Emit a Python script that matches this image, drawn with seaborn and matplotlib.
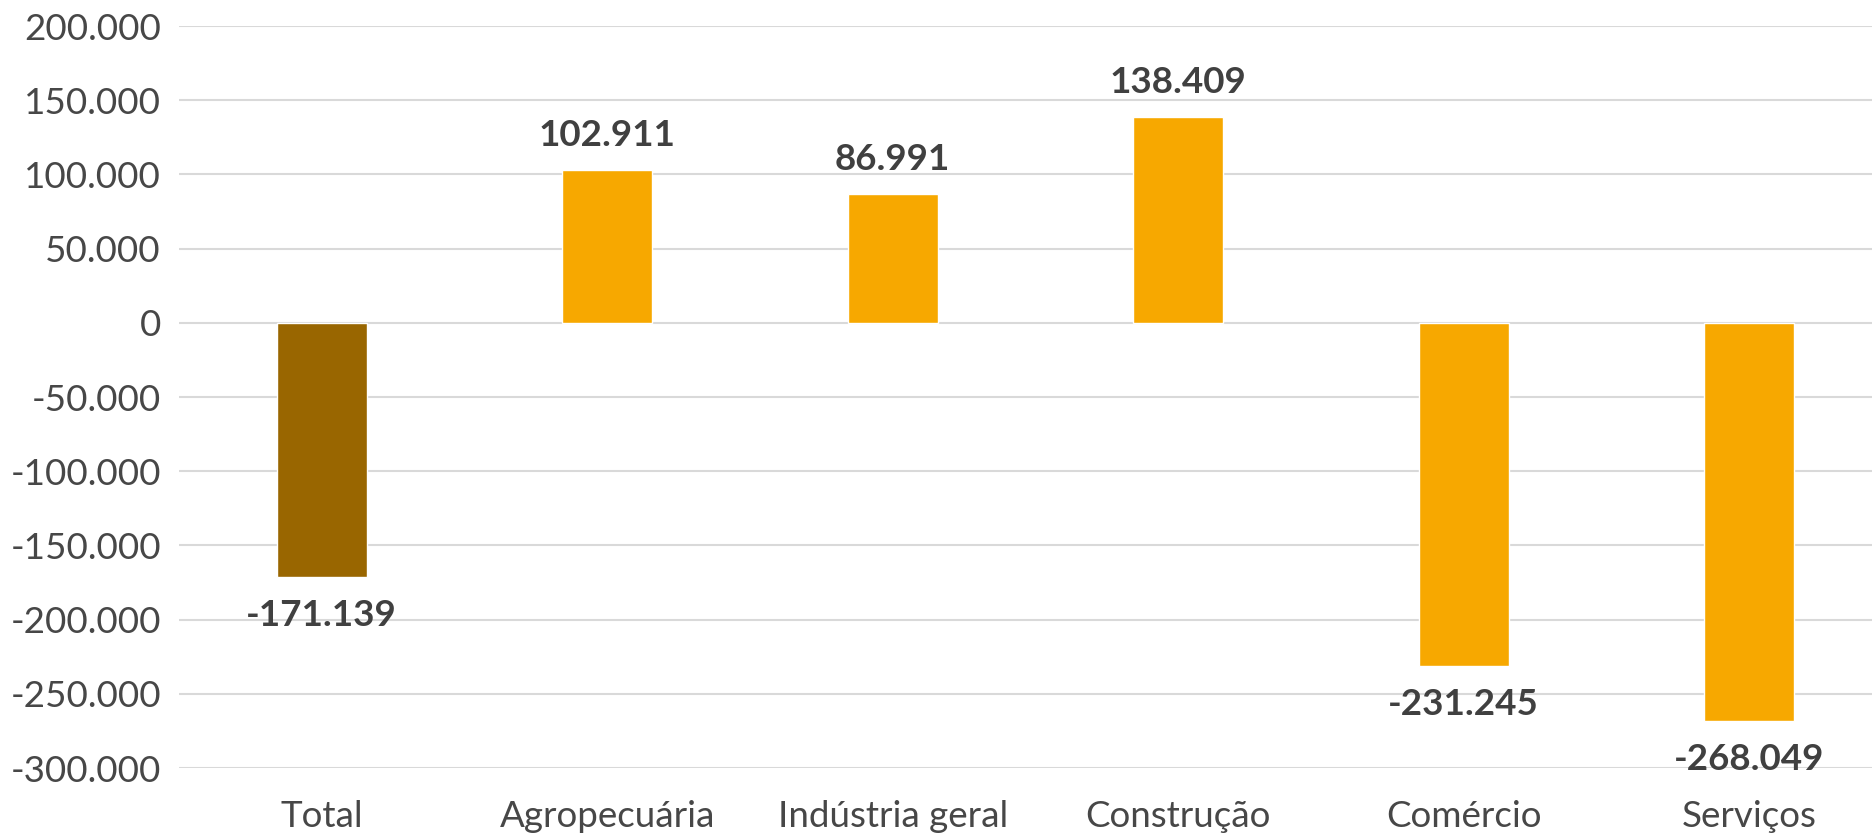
import matplotlib
matplotlib.use("Agg")
import matplotlib.pyplot as plt
import matplotlib.ticker as mticker
import seaborn as sns
import pandas as pd

categories = ["Total", "Agropecuária", "Indústria geral", "Construção", "Comércio", "Serviços"]
values     = [-171139, 102911, 86991, 138409, -231245, -268049]
bar_colors = ["#996600", "#F7A800", "#F7A800", "#F7A800", "#F7A800", "#F7A800"]
y_ticks    = [200000, 150000, 100000, 50000, 0, -50000, -100000, -150000, -200000, -250000, -300000]


def fmt_br(v):
    return f"{v:,.0f}".replace(",", ".")


df = pd.DataFrame({"setor": categories, "saldo": values})

sns.set_style("white")
plt.rcParams["font.family"] = ["Lato", "DejaVu Sans"]

fig = plt.figure(figsize=(18.72, 8.36), dpi=100)
ax = fig.add_axes([179 / 1872, 1 - 768 / 836, 1713 / 1872, 742 / 836])

sns.barplot(
    data=df, x="setor", y="saldo", hue="setor",
    palette=dict(zip(categories, bar_colors)),
    width=0.315, legend=False, saturation=1, ax=ax, zorder=3,
)

ax.set_ylim(-300000, 200000)
ax.set_xlim(-0.5, len(categories) - 0.5)
ax.yaxis.set_major_locator(mticker.FixedLocator(y_ticks))
ax.yaxis.set_major_formatter(mticker.FuncFormatter(lambda v, _: fmt_br(v)))
ax.grid(axis="y", color="#d9d9d9", linewidth=1.5, zorder=0)
for s in ax.spines.values():
    s.set_visible(False)

ax.set_xlabel("")
ax.set_ylabel("")
ax.tick_params(axis="y", length=0, pad=13, labelsize=26.5, labelcolor="#474747")
ax.tick_params(axis="x", length=0, pad=23, labelsize=26.5, labelcolor="#474747")

for i, v in enumerate(values):
    off = 13 if v >= 0 else -16
    ax.annotate(
        fmt_br(v), (i, v), xytext=(0, off), textcoords="offset points",
        ha="center", va="bottom" if v >= 0 else "top",
        fontsize=26.5, fontweight="bold", color="#404040",
    )

fig.savefig("out.png", dpi=100)
